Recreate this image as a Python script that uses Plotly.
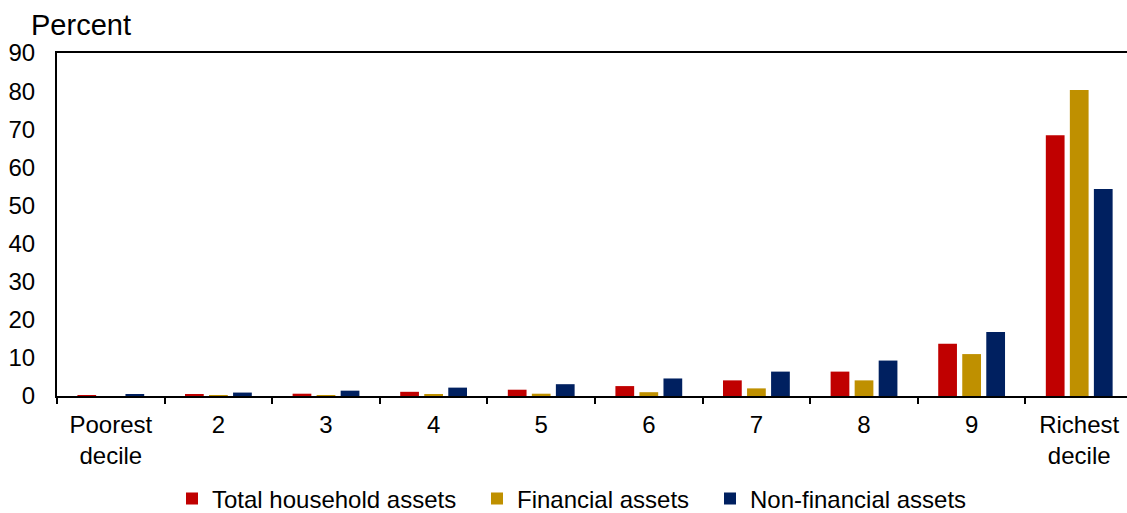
import plotly.graph_objects as go

categories = ["Poorest<br>decile", "2", "3", "4", "5", "6", "7", "8", "9", "Richest<br>decile"]
total_assets = [0.05, 0.3, 0.6, 1.1, 1.65, 2.6, 4.1, 6.4, 13.7, 68.4]
financial_assets = [0.0, 0.05, 0.1, 0.3, 0.6, 1.0, 2.0, 4.1, 11.0, 80.3]
non_financial_assets = [0.35, 0.9, 1.4, 2.2, 3.1, 4.6, 6.4, 9.3, 16.8, 54.3]
y_ticks = [0, 10, 20, 30, 40, 50, 60, 70, 80, 90]

series = [
    ("Total household assets", total_assets, "#C00000", "legend"),
    ("Financial assets", financial_assets, "#BF9000", "legend2"),
    ("Non-financial assets", non_financial_assets, "#002060", "legend3"),
]

FONT = "Liberation Sans, Arial, sans-serif"
PL, PT, PB = 57, 53, 396
PW, PH = 1070, PB - PT

fig = go.Figure()
for name, vals, color, lg in series:
    fig.add_trace(go.Bar(
        x=categories, y=vals, name=name, legend=lg,
        marker=dict(color=color, line=dict(width=0)),
    ))

def legend_at(px):
    return dict(
        orientation="h", x=(px - PL) / PW, xanchor="left",
        y=(PB - 499) / PH, yanchor="middle",
        font=dict(family=FONT, size=24, color="black"),
        itemwidth=30, bgcolor="rgba(0,0,0,0)", borderwidth=0,
    )

fig.update_layout(
    width=1127, height=513,
    margin=dict(l=PL, r=0, t=PT, b=513 - PB, autoexpand=False),
    paper_bgcolor="white", plot_bgcolor="white",
    barmode="group", bargap=0.33, bargroupgap=0.22,
    font=dict(family=FONT, size=24, color="black"),
    showlegend=True,
    legend=legend_at(172),
    legend2=legend_at(477),
    legend3=legend_at(710),
    xaxis=dict(
        type="category", range=[-0.5, 9.444], automargin=False,
        tickson="boundaries", ticks="outside", ticklen=6, tickwidth=2, tickcolor="black",
        showline=True, linecolor="black", linewidth=2, mirror=True,
        showgrid=False, zeroline=False, ticklabelstandoff=6,
        tickfont=dict(family=FONT, size=24, color="black"),
    ),
    yaxis=dict(
        range=[0, 90], tickvals=y_ticks, ticks="", automargin=False,
        showline=True, linecolor="black", linewidth=2,
        showgrid=False, zeroline=False, ticklabelstandoff=15,
        tickfont=dict(family=FONT, size=24, color="black"),
    ),
    annotations=[dict(
        text="Percent", xref="paper", yref="paper",
        x=(29 - PL) / PW, y=1 + (PT - 25) / PH, xanchor="left", yanchor="middle",
        showarrow=False, font=dict(family=FONT, size=29, color="black"),
    )],
)

fig.write_html(
    "out.html",
    config={"displayModeBar": False},
    post_script="document.body.style.margin='0';document.body.style.overflow='hidden';",
)
